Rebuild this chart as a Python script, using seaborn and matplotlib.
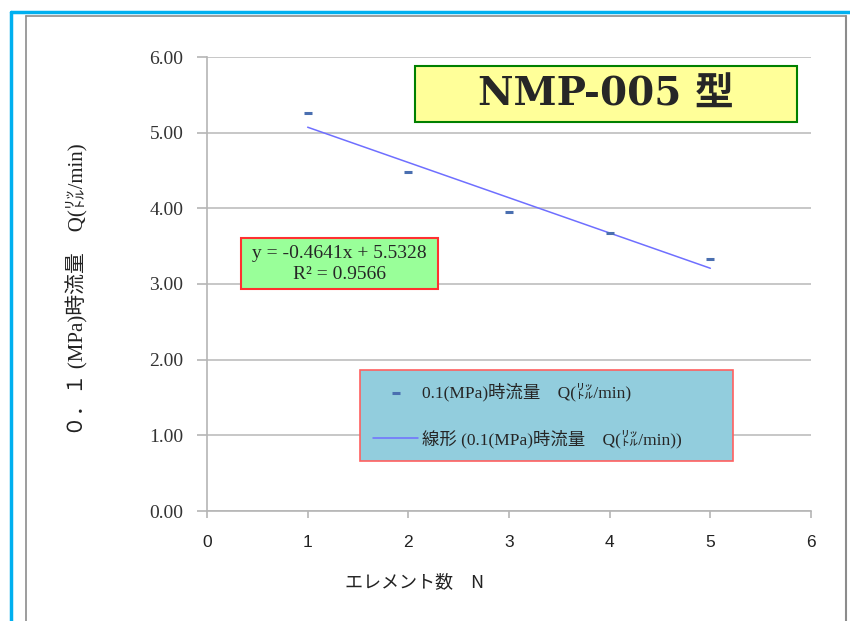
import numpy as np
import pandas as pd
import matplotlib.pyplot as plt
import seaborn as sns
from matplotlib.patches import Rectangle
from matplotlib.lines import Line2D

# data
elements = [1, 2, 3, 4, 5]
flow_q = [5.26, 4.48, 3.95, 3.68, 3.33]
x_ticks = [0, 1, 2, 3, 4, 5, 6]
y_ticks = [0, 1, 2, 3, 4, 5, 6]

title_text = "NMP-005 型"
eq_text = "y = -0.4641x + 5.5328\nR² = 0.9566"
series_label = "0.1(MPa)時流量　Q(㍑/min)"
fit_label = "線形 (0.1(MPa)時流量　Q(㍑/min))"
x_label = "エレメント数　N"
y_label = "０．１ (MPa)時流量　Q(㍑/min)"

df = pd.DataFrame({"N": elements, "Q": flow_q})

sns.set_style("white")
serif = ["Liberation Serif", "Noto Sans CJK JP"]
sans = ["Noto Sans CJK JP", "DejaVu Sans"]
plt.rcParams["font.family"] = serif

fig = plt.figure(figsize=(8.5, 6.21), dpi=100)
ax = fig.add_axes([207 / 850, 1 - 511 / 621, 604 / 850, 454 / 621])

# outer frame decorations
fig.add_artist(Line2D([11 / 850, 11 / 850], [0, 1 - 12 / 621], transform=fig.transFigure,
                      color="#00b0f0", lw=2.5))
fig.add_artist(Line2D([11 / 850, 1], [1 - 12 / 621, 1 - 12 / 621], transform=fig.transFigure,
                      color="#00b0f0", lw=2.5))
fig.add_artist(Line2D([26 / 850, 26 / 850], [0, 1 - 16 / 621], transform=fig.transFigure,
                      color="#8c8c8c", lw=1.2))
fig.add_artist(Line2D([26 / 850, 846 / 850], [1 - 16 / 621, 1 - 16 / 621], transform=fig.transFigure,
                      color="#8c8c8c", lw=1.2))
fig.add_artist(Line2D([846 / 850, 846 / 850], [0, 1 - 16 / 621], transform=fig.transFigure,
                      color="#8c8c8c", lw=1.5))

sns.scatterplot(data=df, x="N", y="Q", marker="_", s=40, linewidth=2.2,
                color="#4a6fb0", ax=ax, label=series_label, zorder=4)
sns.regplot(data=df, x="N", y="Q", scatter=False, ci=None, ax=ax, label=fit_label,
            line_kws={"color": "#6f6fff", "lw": 1.1})
if ax.get_legend() is not None:
    ax.get_legend().remove()

ax.set_xlim(0, 6)
ax.set_ylim(0, 6)
ax.set_xticks(x_ticks)
ax.set_yticks(y_ticks)
ax.set_yticklabels([f"{v:.2f}" for v in y_ticks], fontsize=14, color="#333333")
ax.set_xticklabels([str(v) for v in x_ticks], fontsize=12.5, color="#222222",
                   family=["Liberation Sans", "DejaVu Sans"])
ax.yaxis.grid(True, color="#bdbdbd", lw=1.2)
ax.xaxis.grid(False)
for s in ["top", "right"]:
    ax.spines[s].set_visible(False)
for s in ["left", "bottom"]:
    ax.spines[s].set_color("#b5b5b5")
    ax.spines[s].set_linewidth(1.2)
ax.tick_params(axis="y", length=7, width=1.2, color="#b5b5b5", left=True, pad=10)
ax.tick_params(axis="x", length=5, width=1.2, color="#b5b5b5", bottom=True, pad=12)
ax.set_xlabel("")
ax.set_ylabel("")

fig.text(415 / 850, 1 - 582 / 621, x_label, ha="center", va="center", fontsize=13,
         family=sans, color="#222222")
fig.text(77 / 850, 1 - 290 / 621, y_label, ha="center", va="center", fontsize=15,
         rotation=90, family=serif, color="#222222")

# title box
ax.add_patch(Rectangle((2.07, 5.14), 3.79, 0.74, facecolor="#ffff99", edgecolor="#008000",
                       lw=1.5, zorder=5))
ax.text(3.965, 5.50, title_text, ha="center", va="center", fontsize=28, fontweight="bold",
        family=["DejaVu Serif", "Noto Sans CJK JP"], zorder=6)

# equation box
ax.add_patch(Rectangle((0.34, 2.94), 1.95, 0.67, facecolor="#99ff99", edgecolor="#ff3030",
                       lw=1.5, zorder=5))
ax.text(1.315, 3.27, eq_text, ha="center", va="center", fontsize=14, linespacing=1.3, zorder=6)

h, l = ax.get_legend_handles_labels()
leg = fig.legend(h, l, loc="upper left",
                 bbox_to_anchor=(360 / 850, 1 - 458 / 621, 373 / 850, 88 / 621),
                 mode="expand", fontsize=12.5, frameon=True, fancybox=False,
                 borderpad=0.75, labelspacing=1.6, handlelength=2.6, handletextpad=0.2,
                 borderaxespad=0)
leg.get_frame().set_facecolor("#92cddd")
leg.get_frame().set_edgecolor("#ff6060")
leg.get_frame().set_alpha(1)
leg.get_frame().set_linewidth(1.2)

fig.savefig("out.png", dpi=100)
